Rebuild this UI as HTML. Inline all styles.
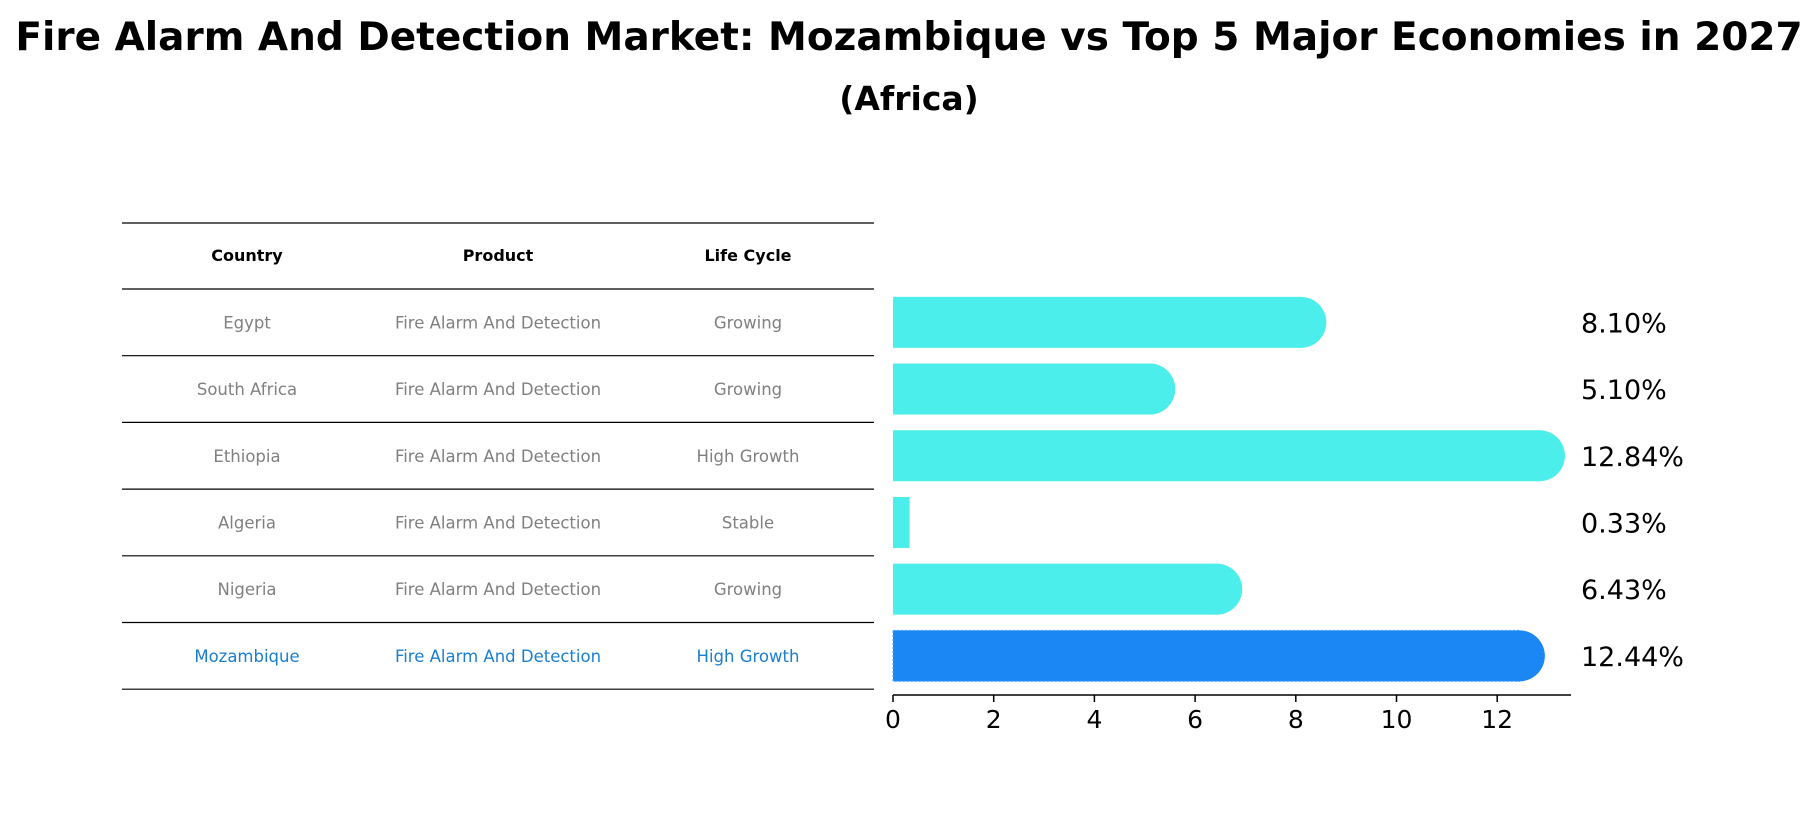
<!DOCTYPE html>
<html><head><meta charset="utf-8"><style>
body{margin:0;background:#fff;}
svg{display:block;font-family:"DejaVu Sans","Liberation Sans",sans-serif;}
</style></head><body>
<svg id="c" width="1819" height="823" viewBox="0 0 1819 823">
<text x="909" y="50" text-anchor="middle" font-size="39" font-weight="bold">Fire Alarm And Detection Market: Mozambique vs Top 5 Major Economies in 2027</text>
<text x="909" y="110" text-anchor="middle" font-size="33" font-weight="bold">(Africa)</text>
<g id="table"></g>
<g id="bars"></g>
<g id="axis"></g>
</svg>
<script>
const countries=["Egypt","South Africa","Ethiopia","Algeria","Nigeria","Mozambique"];
const products=["Fire Alarm And Detection","Fire Alarm And Detection","Fire Alarm And Detection","Fire Alarm And Detection","Fire Alarm And Detection","Fire Alarm And Detection"];
const lifeCycles=["Growing","Growing","High Growth","Stable","Growing","High Growth"];
const values=[8.10,5.10,12.84,0.33,6.43,12.44];
const ticks=[0,2,4,6,8,10,12];
const NS="http://www.w3.org/2000/svg";
const x0=893,pxPer=50.35,rowTop=289,rowH=66.7,barH=51;
const xs=v=>x0+v*pxPer;
function mk(tag,attrs,parent){const e=document.createElementNS(NS,tag);for(const k in attrs)e.setAttribute(k,attrs[k]);parent.appendChild(e);return e;}
const tbl=document.getElementById('table'),bars=document.getElementById('bars'),ax=document.getElementById('axis');
const colX=[247,498,748];
const hdr=["Country","Product","Life Cycle"];
hdr.forEach((h,i)=>{const t=mk('text',{x:colX[i],y:261,'text-anchor':'middle','font-size':16,'font-weight':'bold'},tbl);t.textContent=h;

});
const l0=mk('line',{x1:122,x2:874,y1:223,y2:223,stroke:'#000','stroke-width':1.2},tbl);


for(let i=0;i<=countries.length;i++){const y=rowTop+i*rowH;const l=mk('line',{x1:122,x2:874,y1:y,y2:y,stroke:'#000','stroke-width':1.2},tbl);

}
countries.forEach((c,i)=>{
const cy=rowTop+i*rowH+rowH/2;const hi=i===countries.length-1;const col=hi?'#1a7fd0':'#808080';
[c,products[i],lifeCycles[i]].forEach((s,j)=>{const t=mk('text',{x:colX[j],y:cy+6,'text-anchor':'middle','font-size':16.5,fill:col},tbl);t.textContent=s;

});
const fill=hi?'#1a87f5':'#4beeea';
const bt=cy-barH/2,xe=xs(values[i]);
const g=mk('g',{},bars);


mk('rect',{x:x0,y:bt,width:xe-x0,height:barH,fill:fill,stroke:hi?'#4aa8ff':'none','stroke-dasharray':hi?'2 2':'none'},g);
if(values[i]>=1)mk('circle',{cx:xe,cy:cy,r:barH/2,fill:fill},g);
const t=mk('text',{x:1581,y:cy+10,'font-size':27},bars);t.textContent=values[i].toFixed(2)+'%';


});
const al=mk('line',{x1:x0,x2:1571,y1:695,y2:695,stroke:'#000','stroke-width':1.5},ax);


ticks.forEach(v=>{mk('line',{x1:xs(v),x2:xs(v),y1:695,y2:702,stroke:'#000','stroke-width':1.5},ax);
const t=mk('text',{x:xs(v),y:728,'text-anchor':'middle','font-size':25},ax);t.textContent=v;

});
</script>
</body></html>
